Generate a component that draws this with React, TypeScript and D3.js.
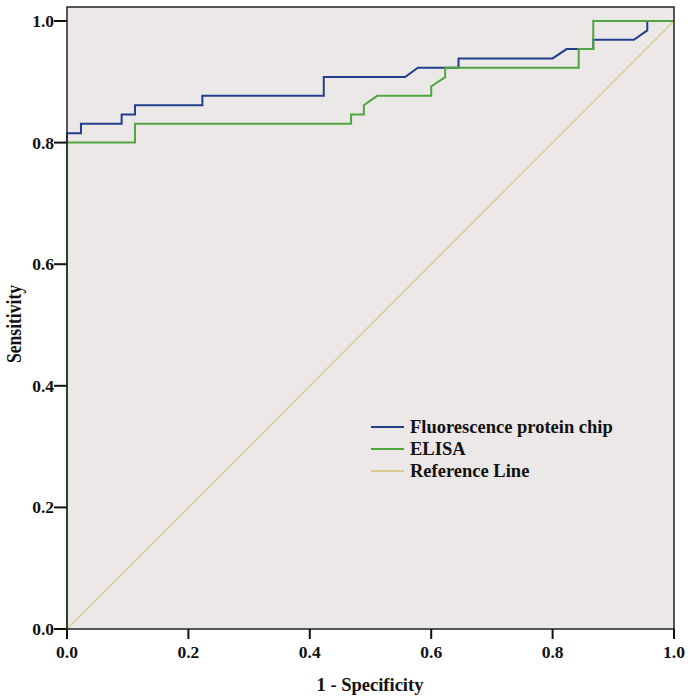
import React from "react";
import * as d3 from "d3";

const xTicks = [0, 0.2, 0.4, 0.6, 0.8, 1.0];
const yTicks = [0, 0.2, 0.4, 0.6, 0.8, 1.0];

const chipFpr = [0, 0, 0.023, 0.023, 0.090, 0.090, 0.112, 0.112, 0.223, 0.223, 0.423, 0.423, 0.557, 0.578, 0.645, 0.645, 0.800, 0.823, 0.867, 0.867, 0.934, 0.956, 0.956, 1.0];
const chipTpr = [0, 0.8154, 0.8154, 0.8308, 0.8308, 0.8462, 0.8462, 0.8615, 0.8615, 0.8769, 0.8769, 0.9077, 0.9077, 0.9231, 0.9231, 0.9385, 0.9385, 0.9538, 0.9538, 0.9692, 0.9692, 0.9846, 1.0, 1.0];

const elisaFpr = [0, 0, 0.112, 0.112, 0.468, 0.468, 0.489, 0.489, 0.511, 0.600, 0.600, 0.623, 0.623, 0.843, 0.843, 0.867, 0.867, 1.0];
const elisaTpr = [0, 0.800, 0.800, 0.8308, 0.8308, 0.8462, 0.8462, 0.8615, 0.8769, 0.8769, 0.8923, 0.9077, 0.9231, 0.9231, 0.9538, 0.9538, 1.0, 1.0];

const refX = [0, 1];
const refY = [0, 1];

const seriesNames = ["Fluorescence protein chip", "ELISA", "Reference Line"];
const seriesColors = ["#213f8e", "#4ea641", "#dccb93"];

const W = 691;
const H = 700;
const left = 67;
const right = 674;
const bottom = 629;
const top = 7;

export default function App() {
  const x = d3.scaleLinear().domain([0, 1]).range([left, right]);
  const y = d3.scaleLinear().domain([0, 1]).range([bottom, 21]);
  const line = d3
    .line<[number, number]>()
    .x((d) => x(d[0]))
    .y((d) => y(d[1]));

  const chip = chipFpr.map((v, i) => [v, chipTpr[i]] as [number, number]);
  const elisa = elisaFpr.map((v, i) => [v, elisaTpr[i]] as [number, number]);
  const ref = refX.map((v, i) => [v, refY[i]] as [number, number]);

  const font = "'Liberation Serif', 'Times New Roman', serif";

  return (
    <svg
      width={W}
      height={H}
      style={{ position: "absolute", left: 0, top: 0, background: "#fff" }}
    >
      <rect x={left} y={top} width={right - left} height={bottom - top} fill="#ebe8e7" />
      <path d={line(ref) || ""} fill="none" stroke={seriesColors[2]} strokeWidth={1.5} />
      <path d={line(chip) || ""} fill="none" stroke={seriesColors[0]} strokeWidth={2} />
      <path d={line(elisa) || ""} fill="none" stroke={seriesColors[1]} strokeWidth={2} />
      <rect
        x={left}
        y={top}
        width={right - left}
        height={bottom - top}
        fill="none"
        stroke="#222"
        strokeWidth={1.5}
      />
      {xTicks.map((t) => (
        <g key={"x" + t}>
          <line x1={x(t)} x2={x(t)} y1={bottom} y2={bottom + 10} stroke="#111" strokeWidth={2} />
          <text
            x={x(t)}
            y={bottom + 29}
            textAnchor="middle"
            fontFamily={font}
            fontWeight="bold"
            fontSize={17.5}
            fill="#111"
          >
            {t.toFixed(1)}
          </text>
        </g>
      ))}
      {yTicks.map((t) => (
        <g key={"y" + t}>
          <line x1={left - 13} x2={left} y1={y(t)} y2={y(t)} stroke="#111" strokeWidth={2} />
          <text
            x={left - 13}
            y={y(t) + 6}
            textAnchor="end"
            fontFamily={font}
            fontWeight="bold"
            fontSize={17.5}
            fill="#111"
          >
            {t.toFixed(1)}
          </text>
        </g>
      ))}
      <text
        x={370}
        y={691}
        textAnchor="middle"
        fontFamily={font}
        fontWeight="bold"
        fontSize={18.5}
        fill="#111"
      >
        1 - Specificity
      </text>
      <text
        transform={`translate(21, 324) rotate(-90) scale(0.88, 1)`}
        textAnchor="middle"
        fontFamily={font}
        fontWeight="bold"
        fontSize={20}
        fill="#111"
      >
        Sensitivity
      </text>
      {seriesNames.map((name, i) => (
        <g key={name}>
          <line
            x1={371}
            x2={404}
            y1={427 + i * 22}
            y2={427 + i * 22}
            stroke={seriesColors[i]}
            strokeWidth={2}
          />
          <text
            x={410}
            y={427 + i * 22 + 6}
            fontFamily={font}
            fontWeight="bold"
            fontSize={18.5}
            fill="#111"
          >
            {name}
          </text>
        </g>
      ))}
    </svg>
  );
}
